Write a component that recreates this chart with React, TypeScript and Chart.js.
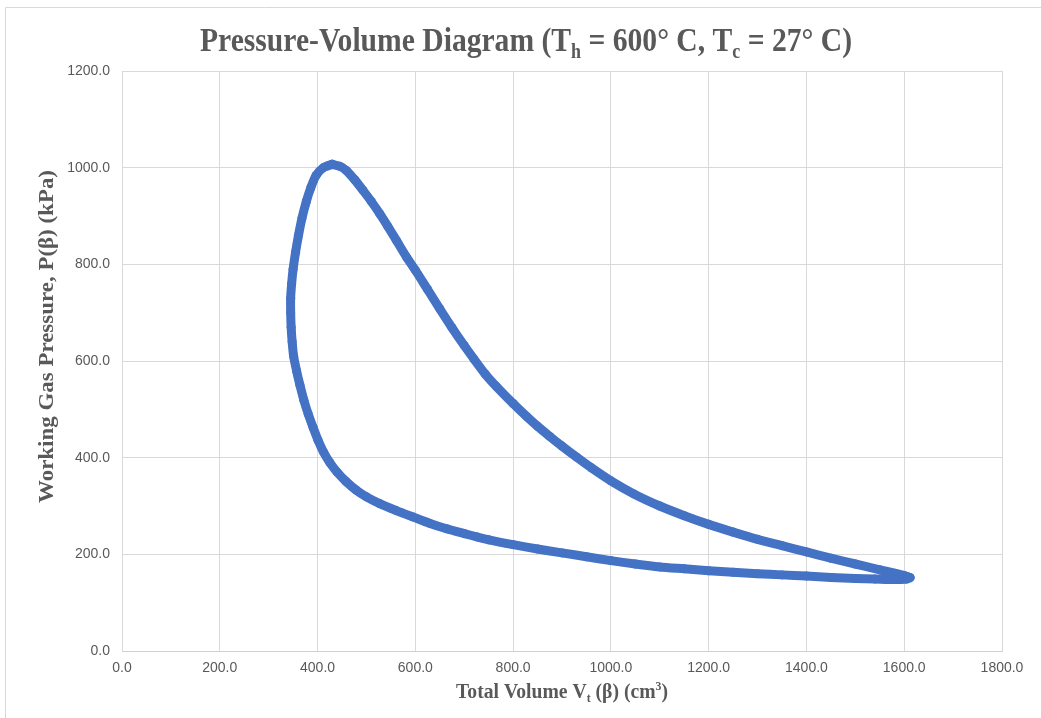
import React, { useEffect, useRef } from "react";
import { Chart, registerables } from "chart.js";

Chart.register(...registerables);

// Total volume V_t (cm^3) around the cycle: expansion (upper) then compression (lower)
const volume: number[] = [
  430, 445, 459, 476, 493, 510, 527, 544, 561, 582, 600, 625, 650, 675, 700, 720, 743, 766, 800, 828,
  850, 875, 900, 930, 960, 1000, 1047, 1100, 1150, 1200, 1250, 1300, 1350, 1400, 1450, 1500, 1550, 1580, 1600, 1612,
  1605, 1580, 1540, 1500, 1450, 1400, 1350, 1300, 1250, 1200, 1150, 1100, 1050, 1000, 950, 900, 850, 800, 750, 726,
  700, 664, 630, 596, 560, 527, 500, 479, 458, 440, 425, 412, 401, 391, 381, 372, 364, 357, 351, 348,
  346, 345, 345, 347, 350, 355, 361, 368, 377, 386, 397, 412, 430,
];
// Working gas pressure P (kPa) at each volume
const pressure: number[] = [
  1007, 1003, 994, 975, 953, 930, 905, 878, 850, 815, 788, 748, 708, 669, 632, 604, 573, 547, 512, 485,
  465, 444, 424, 401, 379, 352, 325, 300, 280, 262, 246, 231, 218, 205, 192, 180, 168, 161, 156, 152,
  149, 148, 149, 150, 152, 155, 157.5, 160, 163, 166, 170, 174, 180, 187, 195, 203, 211, 220, 230, 236,
  243, 253, 264, 277, 291, 305, 319, 333, 351, 370, 390, 412, 436, 462, 490, 519, 550, 580, 610, 640,
  670, 700, 730, 760, 790, 825, 860, 895, 930, 958, 984, 1000, 1007,
];

const xTicks: number[] = [0, 200, 400, 600, 800, 1000, 1200, 1400, 1600, 1800];
const yTicks: number[] = [0, 200, 400, 600, 800, 1000, 1200];

type Seg = { t: string; sub?: boolean; sup?: boolean };
const titleSegs: Seg[] = [
  { t: "Pressure-Volume Diagram (T" },
  { t: "h", sub: true },
  { t: " = 600° C, T" },
  { t: "c", sub: true },
  { t: " = 27° C)" },
];
const xTitleSegs: Seg[] = [
  { t: "Total Volume V" },
  { t: "t", sub: true },
  { t: " (β) (cm" },
  { t: "3", sup: true },
  { t: ")" },
];
const yTitleSegs: Seg[] = [{ t: "Working Gas Pressure, P(β) (kPa)" }];

const SERIF = '"Liberation Serif", "Times New Roman", serif';

function drawSegs(
  ctx: CanvasRenderingContext2D,
  segs: Seg[],
  size: number,
  targetWidth: number
) {
  const small = Math.round(size * 0.62);
  const fontMain = `bold ${size}px ${SERIF}`;
  const fontSmall = `bold ${small}px ${SERIF}`;
  let w = 0;
  const widths = segs.map((s) => {
    ctx.font = s.sub || s.sup ? fontSmall : fontMain;
    const m = ctx.measureText(s.t).width;
    w += m;
    return m;
  });
  const sx = targetWidth / w;
  ctx.scale(sx, 1);
  let x = -w / 2;
  segs.forEach((s, i) => {
    ctx.font = s.sub || s.sup ? fontSmall : fontMain;
    const dy = s.sub ? size * 0.2 : s.sup ? -size * 0.38 : 0;
    ctx.fillText(s.t, x, dy);
    x += widths[i];
  });
}

const textPlugin = {
  id: "pvText",
  afterDraw(chart: any) {
    const ctx: CanvasRenderingContext2D = chart.ctx;
    const area = chart.chartArea;
    ctx.save();
    // outer frame
    ctx.strokeStyle = "#d9d9d9";
    ctx.lineWidth = 1;
    ctx.beginPath();
    ctx.moveTo(5.5, 718);
    ctx.lineTo(5.5, 7.5);
    ctx.lineTo(1041, 7.5);
    ctx.stroke();

    ctx.fillStyle = "#595959";
    ctx.textAlign = "left";
    ctx.textBaseline = "alphabetic";

    // title
    ctx.save();
    ctx.translate(526, 51);
    drawSegs(ctx, titleSegs, 33, 652);
    ctx.restore();

    // x axis title
    ctx.save();
    ctx.translate((area.left + area.right) / 2, 698);
    drawSegs(ctx, xTitleSegs, 20, 212);
    ctx.restore();

    // y axis title
    ctx.save();
    ctx.translate(53, 336.5);
    ctx.rotate(-Math.PI / 2);
    drawSegs(ctx, yTitleSegs, 20, 333);
    ctx.restore();

    ctx.restore();
  },
};

export default function App() {
  const ref = useRef<HTMLCanvasElement | null>(null);

  useEffect(() => {
    document.body.style.margin = "0";
    const canvas = ref.current;
    if (!canvas) return;
    const points = volume.map((v, i) => ({ x: v, y: pressure[i] }));
    const chart = new Chart(canvas, {
      type: "scatter",
      data: {
        datasets: [
          {
            label: "P-V",
            data: points,
            showLine: true,
            borderColor: "#4472C4",
            backgroundColor: "#4472C4",
            borderWidth: 9,
            tension: 0.25,
            pointRadius: 4.5,
            pointBorderWidth: 0,
            borderCapStyle: "round",
            borderJoinStyle: "round",
          } as any,
        ],
      },
      options: {
        responsive: false,
        animation: false,
        devicePixelRatio: 1,
        layout: { padding: { top: 71, right: 39, bottom: 0, left: 0 } },
        plugins: {
          legend: { display: false },
          title: { display: false },
          tooltip: { enabled: false },
        },
        scales: {
          x: {
            type: "linear",
            min: 0,
            max: 1800,
            afterFit: (s: any) => {
              s.height = 67;
            },
            afterBuildTicks: (s: any) => {
              s.ticks = xTicks.map((v) => ({ value: v }));
            },
            grid: { color: "#d9d9d9", drawTicks: false, lineWidth: 1 },
            border: { color: "#d0d0d0" },
            ticks: {
              padding: 9,
              color: "#595959",
              font: { family: '"Liberation Sans", Arial, sans-serif', size: 14 },
              callback: (v: any) => Number(v).toFixed(1),
            },
          },
          y: {
            type: "linear",
            min: 0,
            max: 1200,
            afterFit: (s: any) => {
              s.width = 122;
            },
            afterBuildTicks: (s: any) => {
              s.ticks = yTicks.map((v) => ({ value: v }));
            },
            grid: { color: "#d9d9d9", drawTicks: false, lineWidth: 1 },
            border: { color: "#d9d9d9" },
            ticks: {
              padding: 12,
              color: "#595959",
              font: { family: '"Liberation Sans", Arial, sans-serif', size: 14 },
              callback: (v: any) => Number(v).toFixed(1),
            },
          },
        },
      },
      plugins: [textPlugin],
    });
    return () => chart.destroy();
  }, []);

  return <canvas ref={ref} width={1041} height={718} style={{ display: "block" }} />;
}
